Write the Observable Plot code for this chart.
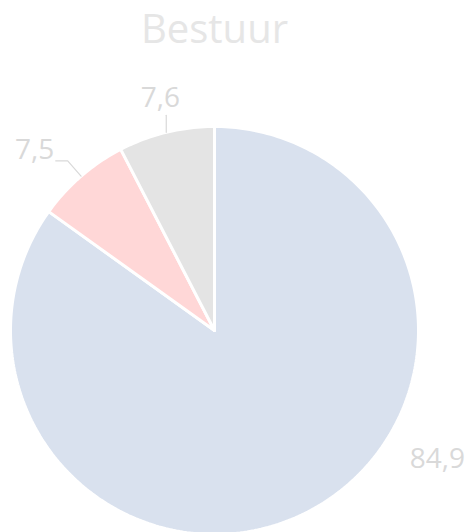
<!DOCTYPE html>
<html><head><meta charset="utf-8">
<script src="https://cdn.jsdelivr.net/npm/d3@7"></script>
<script src="https://cdn.jsdelivr.net/npm/@observablehq/plot@0.6"></script>
<style>body{margin:0;background:#fff;} svg{display:block;}</style>
</head><body><div id="chart"></div>
<script>
const title = "Bestuur";
const categories = ["Ja", "Nee", "Weet niet"];
const values = [84.9, 7.5, 7.6];
const labels = ["84,9", "7,5", "7,6"];
const colors = ["#d9e1ee", "#ffd7d7", "#e4e4e4"];

const W = 472, H = 532, R = 204, cx = 214, cy = 330;
const total = d3.sum(values);
// slices clockwise from 12 o'clock
let acc = 0;
const slices = values.map((v, i) => {
  const a0 = acc / total * 2 * Math.PI; acc += v;
  const a1 = acc / total * 2 * Math.PI;
  return {cat: categories[i], value: v, label: labels[i], color: colors[i], a0, a1, mid: (a0 + a1) / 2};
});
const pt = (a, r) => [r * Math.sin(a), r * Math.cos(a)];
const poly = [];
slices.forEach(s => {
  poly.push({cat: s.cat, color: s.color, x: 0, y: 0});
  const n = Math.max(4, Math.ceil((s.a1 - s.a0) / (2 * Math.PI) * 360));
  for (let k = 0; k <= n; k++) {
    const [x, y] = pt(s.a0 + (s.a1 - s.a0) * k / n, 1);
    poly.push({cat: s.cat, color: s.color, x, y});
  }
  poly.push({cat: s.cat, color: s.color, x: 0, y: 0});
});
// label layout: [radius, angle offset (rad)] relative to slice mid-angle
const labelLayout = [[1.26, -0.575], [1.25, -0.07], [1.17, 0.01]];
const labelData = slices.map((s, i) => {
  const [x, y] = pt(s.mid + labelLayout[i][1], labelLayout[i][0]);
  return {x, y, text: s.label};
});
// leader lines for small slices
const leaders = [];
slices.forEach((s, i) => {
  if (s.value / total > 0.2) return;
  const [x0, y0] = pt(s.mid, 1.0);
  if (i === 1) {
    const [x1, y1] = pt(s.mid, 1.1);
    leaders.push({cat: s.cat, x: x0, y: y0}, {cat: s.cat, x: x1, y: y1}, {cat: s.cat, x: x1 - 12 / R, y: y1});
  } else {
    leaders.push({cat: s.cat, x: x0, y: y0}, {cat: s.cat, x: x0, y: y0 + 17 / R});
  }
});

const plot = Plot.plot({
  width: W, height: H,
  margin: 0,
  x: {domain: [-cx / R, (W - cx) / R], axis: null},
  y: {domain: [-(H - cy) / R, cy / R], axis: null},
  marks: [
    Plot.line(poly, {x: "x", y: "y", z: "cat", fill: "color", stroke: "white", strokeWidth: 3, strokeLinejoin: "miter", curve: "linear"}),
    Plot.line(leaders, {x: "x", y: "y", z: "cat", stroke: "#d9d9d9", strokeWidth: 1.2}),
    Plot.text(labelData, {x: "x", y: "y", text: "text", fill: "#d9d9d9", fontSize: 28, fontFamily: "Open Sans", textAnchor: "middle"}),
    Plot.text([title], {x: [0], y: [(cy - 30) / R], text: d => d, fill: "#e6e6e6", fontSize: 40, fontFamily: "Open Sans", textAnchor: "middle"})
  ]
});
document.getElementById("chart").appendChild(plot);
</script></body></html>
